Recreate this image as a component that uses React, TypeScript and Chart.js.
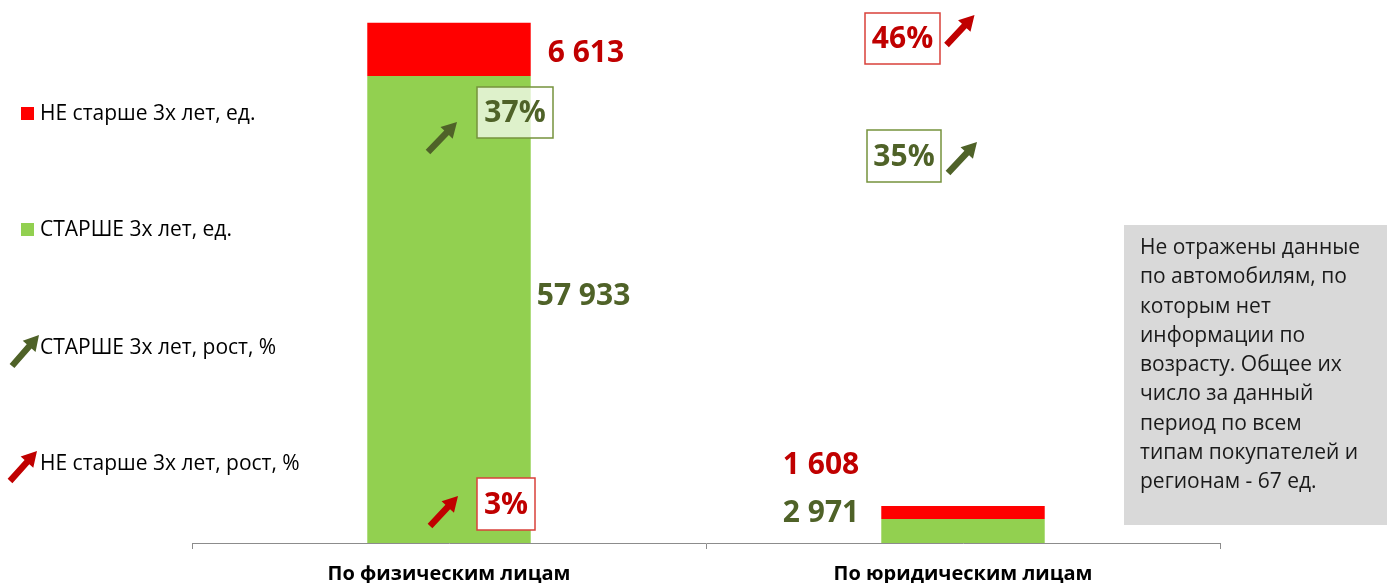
import React, { useEffect, useRef } from "react";
import { Chart, registerables } from "chart.js";
Chart.register(...registerables);

const categories = ["По физическим лицам", "По юридическим лицам"];
const olderUnits = [57933, 2971];
const newerUnits = [6613, 1608];
const olderGrowthPct = [37, 35];
const newerGrowthPct = [3, 46];
const legendLabels = [
  "НЕ старше 3х лет, ед.",
  "СТАРШЕ 3х лет, ед.",
  "СТАРШЕ 3х лет, рост, %",
  "НЕ старше 3х лет, рост, %",
];
const noteLines = [
  "Не отражены данные",
  "по автомобилям, по",
  "которым нет",
  "информации по",
  "возрасту. Общее их",
  "число за данный",
  "период по всем",
  "типам покупателей и",
  "регионам - 67 ед.",
];
const yMax = 65000;

const FONT = '"Open Sans", "Noto Sans", sans-serif';
const RED_BAR = "#FF0000";
const GREEN_BAR = "#92D050";
const RED_TXT = "#C00000";
const GREEN_TXT = "#4F6228";

const fmt = (v: number) => String(v).replace(/\B(?=(\d{3})+(?!\d))/g, " ");

function drawArrow(ctx: CanvasRenderingContext2D, x0: number, y0: number, x1: number, y1: number, color: string) {
  const ang = Math.atan2(y1 - y0, x1 - x0);
  const len = Math.hypot(x1 - x0, y1 - y0);
  const headLen = 15, headW = 8.5, shaftW = 3.2;
  ctx.save();
  ctx.translate(x0, y0);
  ctx.rotate(ang);
  ctx.beginPath();
  ctx.moveTo(0, -shaftW);
  ctx.lineTo(len - headLen, -shaftW);
  ctx.lineTo(len - headLen, -headW);
  ctx.lineTo(len, 0);
  ctx.lineTo(len - headLen, headW);
  ctx.lineTo(len - headLen, shaftW);
  ctx.lineTo(0, shaftW);
  ctx.closePath();
  ctx.fillStyle = color;
  ctx.fill();
  ctx.restore();
}

function drawBox(ctx: CanvasRenderingContext2D, cx: number, cy: number, w: number, h: number, text: string, color: string, border: string, fill: string) {
  ctx.save();
  ctx.fillStyle = fill;
  ctx.fillRect(cx - w / 2, cy - h / 2, w, h);
  ctx.strokeStyle = border;
  ctx.lineWidth = 1.5;
  ctx.strokeRect(cx - w / 2, cy - h / 2, w, h);
  ctx.fillStyle = color;
  ctx.font = `bold 30px ${FONT}`;
  ctx.textAlign = "center";
  ctx.textBaseline = "middle";
  ctx.fillText(text, cx, cy + 1);
  ctx.restore();
}

const overlayPlugin = {
  id: "overlay",
  afterDraw(chart: any) {
    const ctx: CanvasRenderingContext2D = chart.ctx;
    const g = chart.getDatasetMeta(0).data;
    const r = chart.getDatasetMeta(1).data;

    // Legend
    ctx.save();
    ctx.font = `21px ${FONT}`;
    ctx.textBaseline = "middle";
    ctx.textAlign = "left";
    ctx.fillStyle = RED_BAR;
    ctx.fillRect(21, 107, 13, 13);
    ctx.fillStyle = GREEN_BAR;
    ctx.fillRect(21, 223, 13, 13);
    drawArrow(ctx, 12, 366, 39, 335, GREEN_TXT);
    drawArrow(ctx, 10, 481, 37, 451, RED_TXT);
    ctx.fillStyle = "#000";
    ctx.fillText(legendLabels[0], 40, 114);
    ctx.fillText(legendLabels[1], 40, 230);
    ctx.fillText(legendLabels[2], 40, 348);
    ctx.fillText(legendLabels[3], 40, 464);
    ctx.restore();

    // Value labels
    ctx.save();
    ctx.font = `bold 30px ${FONT}`;
    ctx.textBaseline = "middle";
    const b0g = g[0], b0r = r[0];
    ctx.textAlign = "left";
    ctx.fillStyle = RED_TXT;
    ctx.fillText(fmt(newerUnits[0]), b0r.x + b0r.width / 2 + 17, (b0r.y + b0r.base) / 2 + 4);
    ctx.fillStyle = GREEN_TXT;
    ctx.fillText(fmt(olderUnits[0]), b0g.x + b0g.width / 2 + 6, (b0g.y + b0g.base) / 2 - 13);
    const b1g = g[1];
    ctx.textAlign = "right";
    ctx.fillStyle = RED_TXT;
    ctx.fillText(fmt(newerUnits[1]), b1g.x - b1g.width / 2 - 22, b1g.base - 78);
    ctx.fillStyle = GREEN_TXT;
    ctx.fillText(fmt(olderUnits[1]), b1g.x - b1g.width / 2 - 22, b1g.base - 30);
    ctx.restore();

    // Growth boxes + arrows
    const c0 = g[0].x, c1 = g[1].x;
    drawBox(ctx, c0 + 66, 112.5, 76, 51, olderGrowthPct[0] + "%", GREEN_TXT, "#76923C", "rgba(255,255,255,0.7)");
    drawArrow(ctx, c0 + 66 - 87, 152, c0 + 66 - 58, 122, GREEN_TXT);
    drawBox(ctx, c0 + 57, 504, 58, 52, newerGrowthPct[0] + "%", RED_TXT, "#D9403A", "#FFFFFF");
    drawArrow(ctx, c0 + 57 - 76, 526, c0 + 57 - 48, 496, RED_TXT);
    drawBox(ctx, c1 - 60.5, 38.5, 75, 51, newerGrowthPct[1] + "%", RED_TXT, "#D9403A", "#FFFFFF");
    drawArrow(ctx, c1 - 60.5 + 44, 45, c1 - 60.5 + 72, 15, RED_TXT);
    drawBox(ctx, c1 - 59, 156, 74, 52, olderGrowthPct[1] + "%", GREEN_TXT, "#76923C", "#FFFFFF");
    drawArrow(ctx, c1 - 59 + 44, 173, c1 - 59 + 73, 142, GREEN_TXT);

    // Note box
    ctx.save();
    ctx.fillStyle = "#D9D9D9";
    ctx.fillRect(1124, 225, 263, 300);
    ctx.fillStyle = "#1A1A1A";
    ctx.font = `21px ${FONT}`;
    ctx.textAlign = "left";
    ctx.textBaseline = "middle";
    noteLines.forEach((line, i) => ctx.fillText(line, 1140, 248 + i * 29.3));
    ctx.restore();
  },
};

export default function App() {
  const ref = useRef<HTMLCanvasElement>(null);
  useEffect(() => {
    if (!ref.current) return;
    const chart = new Chart(ref.current, {
      type: "bar",
      data: {
        labels: categories,
        datasets: [
          { label: legendLabels[1], data: olderUnits, backgroundColor: GREEN_BAR, borderWidth: 0 },
          { label: legendLabels[0], data: newerUnits, backgroundColor: RED_BAR, borderWidth: 0 },
        ],
      },
      options: {
        animation: false,
        responsive: true,
        maintainAspectRatio: false,
        layout: { padding: { left: 192, right: 167, top: 19, bottom: 0 } },
        plugins: { legend: { display: false }, tooltip: { enabled: false } },
        datasets: { bar: { categoryPercentage: 1, barPercentage: 0.318 } },
        scales: {
          x: {
            stacked: true,
            grid: { drawOnChartArea: false, drawTicks: true, tickLength: 6, color: "#8C8C8C" },
            border: { display: true, color: "#8C8C8C", width: 1 },
            ticks: { color: "#000", font: { family: FONT, size: 20, weight: "bold" }, padding: 13 },
            afterFit: (s: any) => { s.height = 40; },
          },
          y: { stacked: true, display: false, min: 0, max: yMax },
        },
      },
      plugins: [overlayPlugin],
    });
    return () => chart.destroy();
  }, []);
  return (
    <div style={{ position: "absolute", left: 0, top: 0, width: 1387, height: 583, background: "#fff" }}>
      <canvas ref={ref} />
    </div>
  );
}
